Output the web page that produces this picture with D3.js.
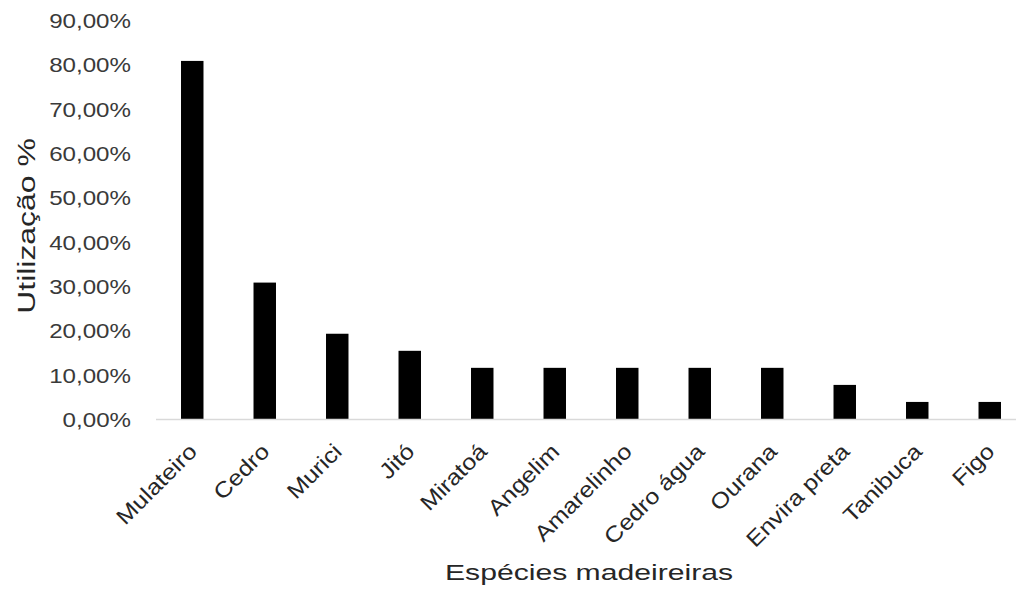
<!DOCTYPE html>
<html>
<head>
<meta charset="utf-8">
<script src="https://cdn.jsdelivr.net/npm/d3@7"></script>
<style>
  body { margin: 0; background: #fff; }
  text { font-family: "Liberation Sans", Arial, sans-serif; }
</style>
</head>
<body>
<div id="chart"></div>
<script>
const species = ['Mulateiro', 'Cedro', 'Murici', 'Jitó', 'Miratoá', 'Angelim',
  'Amarelinho', 'Cedro água', 'Ourana', 'Envira preta', 'Tanibuca', 'Figo'];
const usage = [80.77, 30.77, 19.23, 15.38, 11.54, 11.54, 11.54, 11.54, 11.54, 7.69, 3.85, 3.85];
const yTicks = [0, 10, 20, 30, 40, 50, 60, 70, 80, 90];

const width = 1016,
  height = 604;

const svg = d3.select('#chart')
  .append('svg')
  .attr('width', width)
  .attr('height', height);

const x = d3.scaleBand()
  .domain(species)
  .range([156, 1026])
  .paddingInner(0.69)
  .paddingOuter(0.345);

const y = d3.scaleLinear()
  .domain([0, 90])
  .range([419, 20]);

const fmt = function (v) {
  return v.toFixed(2).replace('.', ',') + '%';
};

//bars
svg.selectAll('.bar')
  .data(species)
  .enter().append('rect')
  .attr('class', 'bar')
  .attr('x', function (d) { return x(d); })
  .attr('y', function (d, i) { return y(usage[i]); })
  .attr('width', x.bandwidth())
  .attr('height', function (d, i) { return y(0) - y(usage[i]); })
  .style('fill', '#000');

//baseline
svg.append('line')
  .attr('x1', x.range()[0])
  .attr('x2', x.range()[1])
  .attr('y1', y(0) + 0.5)
  .attr('y2', y(0) + 0.5)
  .style('stroke', '#d9d9d9')
  .style('stroke-width', 1.5);

//y tick labels
svg.selectAll('.yLabel')
  .data(yTicks)
  .enter().append('text')
  .attr('class', 'yLabel')
  .attr('text-anchor', 'end')
  .attr('transform', function (d) {
    return 'translate(131,' + (y(d) + 8) + ') scale(1.15,1)';
  })
  .style('font-size', '21px')
  .style('fill', '#3a3a3a')
  .text(fmt);

//x tick labels
svg.selectAll('.xLabel')
  .data(species)
  .enter().append('text')
  .attr('class', 'xLabel')
  .attr('text-anchor', 'end')
  .attr('transform', function (d) {
    return 'translate(' + (x(d) + x.bandwidth() / 2 + 6) + ',453) rotate(-45) scale(1.14,1)';
  })
  .style('font-size', '22px')
  .style('fill', '#262626')
  .text(function (d) { return d; });

//axis titles
svg.append('text')
  .attr('text-anchor', 'middle')
  .attr('transform', 'translate(' + ((x.range()[0] + x.range()[1]) / 2 - 2) + ',580) scale(1.37,1)')
  .style('font-size', '22px')
  .style('fill', '#262626')
  .text('Espécies madeireiras');

svg.append('text')
  .attr('text-anchor', 'middle')
  .attr('transform', 'translate(35,226) rotate(-90) scale(1.33,1)')
  .style('font-size', '24px')
  .style('fill', '#262626')
  .text('Utilização %');
</script>
</body>
</html>
